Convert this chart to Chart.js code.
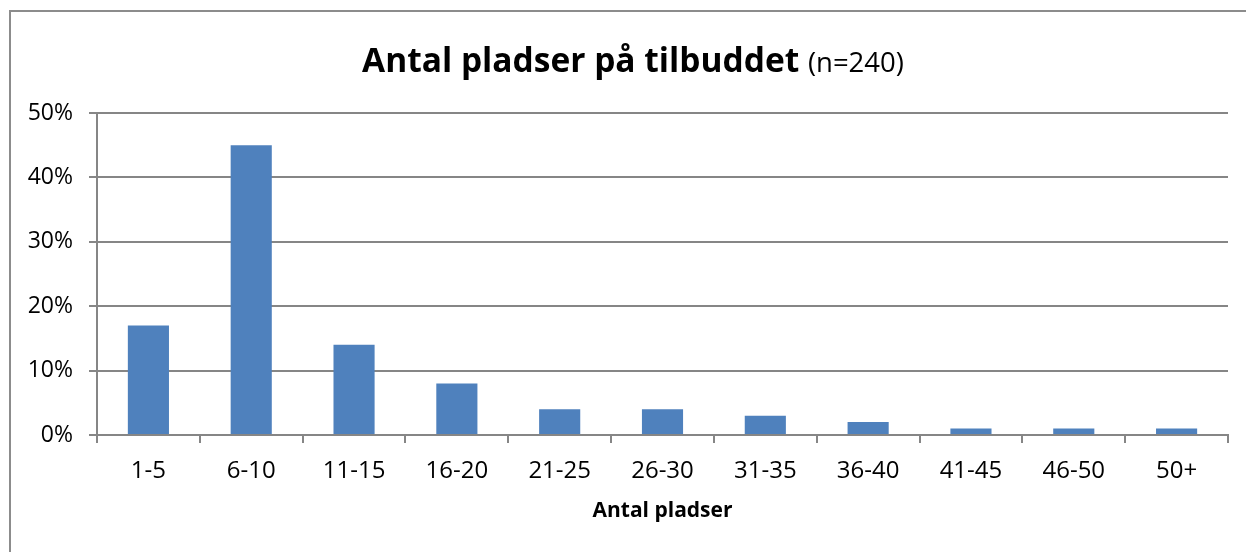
<!DOCTYPE html>
<html>
<head>
<meta charset="utf-8">
<script src="https://cdn.jsdelivr.net/npm/chart.js@4/dist/chart.umd.min.js"></script>
<style>
  html, body { margin: 0; padding: 0; background: #fff; }
  #wrap { position: relative; width: 1246px; height: 552px; overflow: hidden; }
  #frame { position: absolute; left: 9px; top: 10px; width: 1300px; height: 600px; border: 2px solid #8c8c8c; box-sizing: border-box; }
  #title { position: absolute; left: 0; top: 36px; width: 1266px; text-align: center; font-family: "Open Sans", sans-serif; font-size: 33.5px; line-height: 46px; color: #000; }
  #title b { font-weight: 700; }
  #title span { font-weight: 400; font-size: 27.5px; }
  canvas { position: absolute; left: 0; top: 0; }
</style>
</head>
<body>
<div id="wrap">
  <div id="frame"></div>
  <canvas id="myChart" width="1246" height="552"></canvas>
  <div id="title"><b>Antal pladser på tilbuddet</b> <span>(n=240)</span></div>
</div>
<script>
// 1 DATA
const categories = ['1-5', '6-10', '11-15', '16-20', '21-25', '26-30', '31-35', '36-40', '41-45', '46-50', '50+'];
const shares = [17, 45, 14, 8, 4, 4, 3, 2, 1, 1, 1];
const yTicks = [0, 10, 20, 30, 40, 50];

const axisGrey = '#868686';
const font = "'Open Sans', sans-serif";

// 2 CHART
const ctx = document.querySelector('#myChart').getContext('2d');
const myChart = new Chart(ctx, {
    type: 'bar',
    data: {
        labels: categories,
        datasets: [{
            label: 'Antal pladser',
            data: shares,
            backgroundColor: '#4F81BD',
            borderWidth: 0,
            categoryPercentage: 0.4,
            barPercentage: 1
        }]
    },
    options: {
        responsive: false,
        animation: false,
        devicePixelRatio: 1,
        layout: { padding: { top: 113, right: 18, left: 0, bottom: 0 } },
        plugins: {
            legend: { display: false },
            title: { display: false },
            tooltip: { enabled: false }
        },
        scales: {
            x: {
                grid: { drawOnChartArea: false, drawTicks: true, tickLength: 8, color: axisGrey, lineWidth: 2, offset: true },
                border: { color: axisGrey, width: 2 },
                ticks: { color: '#000', font: { family: font, size: 24 }, padding: 14, maxRotation: 0 },
                title: { display: true, text: 'Antal pladser', color: '#000', font: { family: font, size: 21, weight: 'bold' }, padding: { top: 8, bottom: 28 } },
                afterFit: s => { s.height = 117; }
            },
            y: {
                min: 0,
                max: 50,
                afterBuildTicks: s => { s.ticks = yTicks.map(v => ({ value: v })); },
                grid: { color: axisGrey, lineWidth: 2, tickLength: 8 },
                border: { color: axisGrey, width: 2 },
                ticks: { color: '#000', font: { family: font, size: 23 }, padding: 16, callback: v => v + '%' },
                afterFit: s => { s.width = 97; }
            }
        }
    }
});
</script>
</body>
</html>
